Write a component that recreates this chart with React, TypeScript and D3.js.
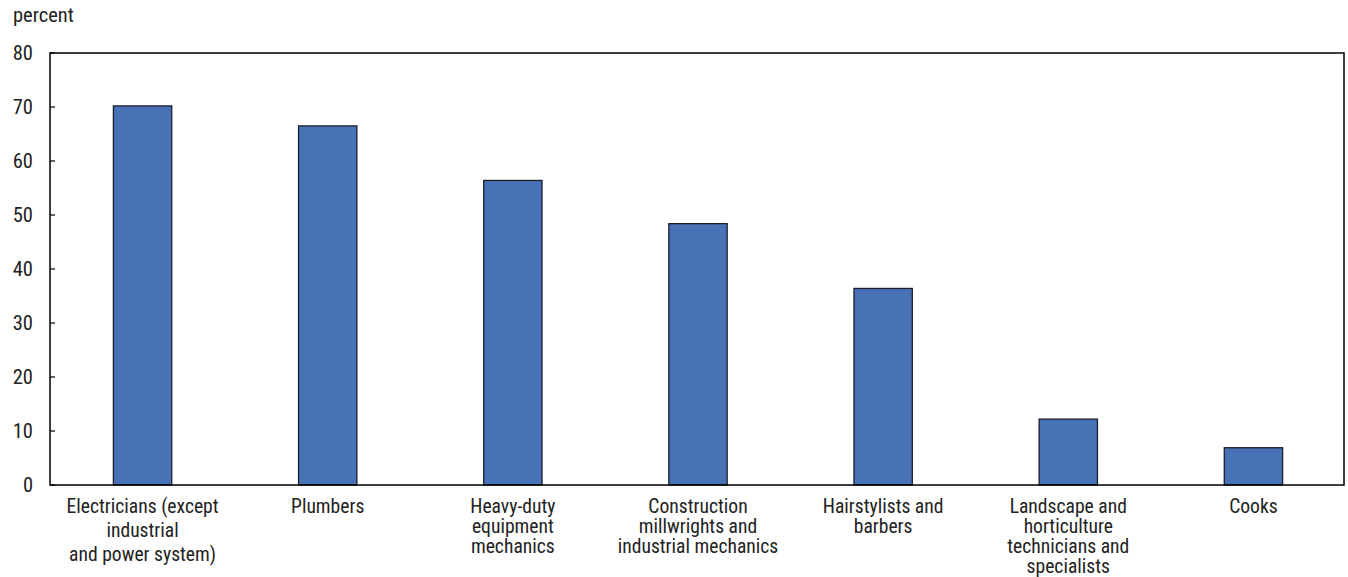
import React from "react";
import * as d3 from "d3";

const categories: string[][] = [
  ["Electricians (except", "industrial", "and power system)"],
  ["Plumbers"],
  ["Heavy-duty", "equipment", "mechanics"],
  ["Construction", "millwrights and", "industrial mechanics"],
  ["Hairstylists and", "barbers"],
  ["Landscape and", "horticulture", "technicians and", "specialists"],
  ["Cooks"],
];
const values: number[] = [70.2, 66.5, 56.4, 48.4, 36.4, 12.2, 6.9];
const yTicks: number[] = [0, 10, 20, 30, 40, 50, 60, 70, 80];
const yLabel = "percent";

const W = 1348;
const H = 577;
const m = { left: 50, right: 2, top: 53, bottom: 92 };
const FONT = "'Liberation Sans Narrow', 'Arial Narrow', 'Roboto Condensed', 'Liberation Sans', sans-serif";
// the first label uses hard line breaks, which sit a little further apart
const WIDE_GAP_INDEX = 0;

export default function App() {
  const x = d3
    .scaleBand<number>()
    .domain(d3.range(categories.length))
    .range([m.left, W - m.right])
    .paddingInner(0)
    .paddingOuter(0);
  const y = d3.scaleLinear().domain([0, 80]).range([H - m.bottom, m.top]);
  const bw = x.bandwidth() * 0.315;
  return (
    <svg width={W} height={H} style={{ position: "absolute", left: 0, top: 0, background: "#fff" }}>
      <text x={13} y={22} fontFamily={FONT} fontSize={20.5} fill="#222">{yLabel}</text>
      {yTicks.map((t) => (
        <g key={t}>
          <line x1={m.left} x2={m.left + 5} y1={y(t)} y2={y(t)} stroke="#000" strokeWidth={1.2} />
          <text x={33} y={y(t)} dy="0.36em" textAnchor="end" fontFamily={FONT} fontSize={20.5} fill="#222">
            {t}
          </text>
        </g>
      ))}
      {values.map((v, i) => {
        const cx = (x(i) as number) + x.bandwidth() / 2;
        return (
          <rect
            key={i}
            x={cx - bw / 2}
            y={y(v)}
            width={bw}
            height={y(0) - y(v)}
            fill="#4872B6"
            stroke="#1c1c2a"
            strokeWidth={1.3}
          />
        );
      })}
      <rect
        x={m.left}
        y={m.top}
        width={W - m.right - m.left - 2}
        height={y(0) - m.top}
        fill="none"
        stroke="#000"
        strokeWidth={1.5}
      />
      {categories.map((lines, i) => {
        const cx = (x(i) as number) + x.bandwidth() / 2;
        const gap = i === WIDE_GAP_INDEX ? 24 : 20;
        return (
          <text key={i} x={cx} y={513} textAnchor="middle" fontFamily={FONT} fontSize={19.6} fill="#222">
            {lines.map((l, j) => (
              <tspan key={j} x={cx} dy={j === 0 ? 0 : gap}>
                {l}
              </tspan>
            ))}
          </text>
        );
      })}
    </svg>
  );
}
